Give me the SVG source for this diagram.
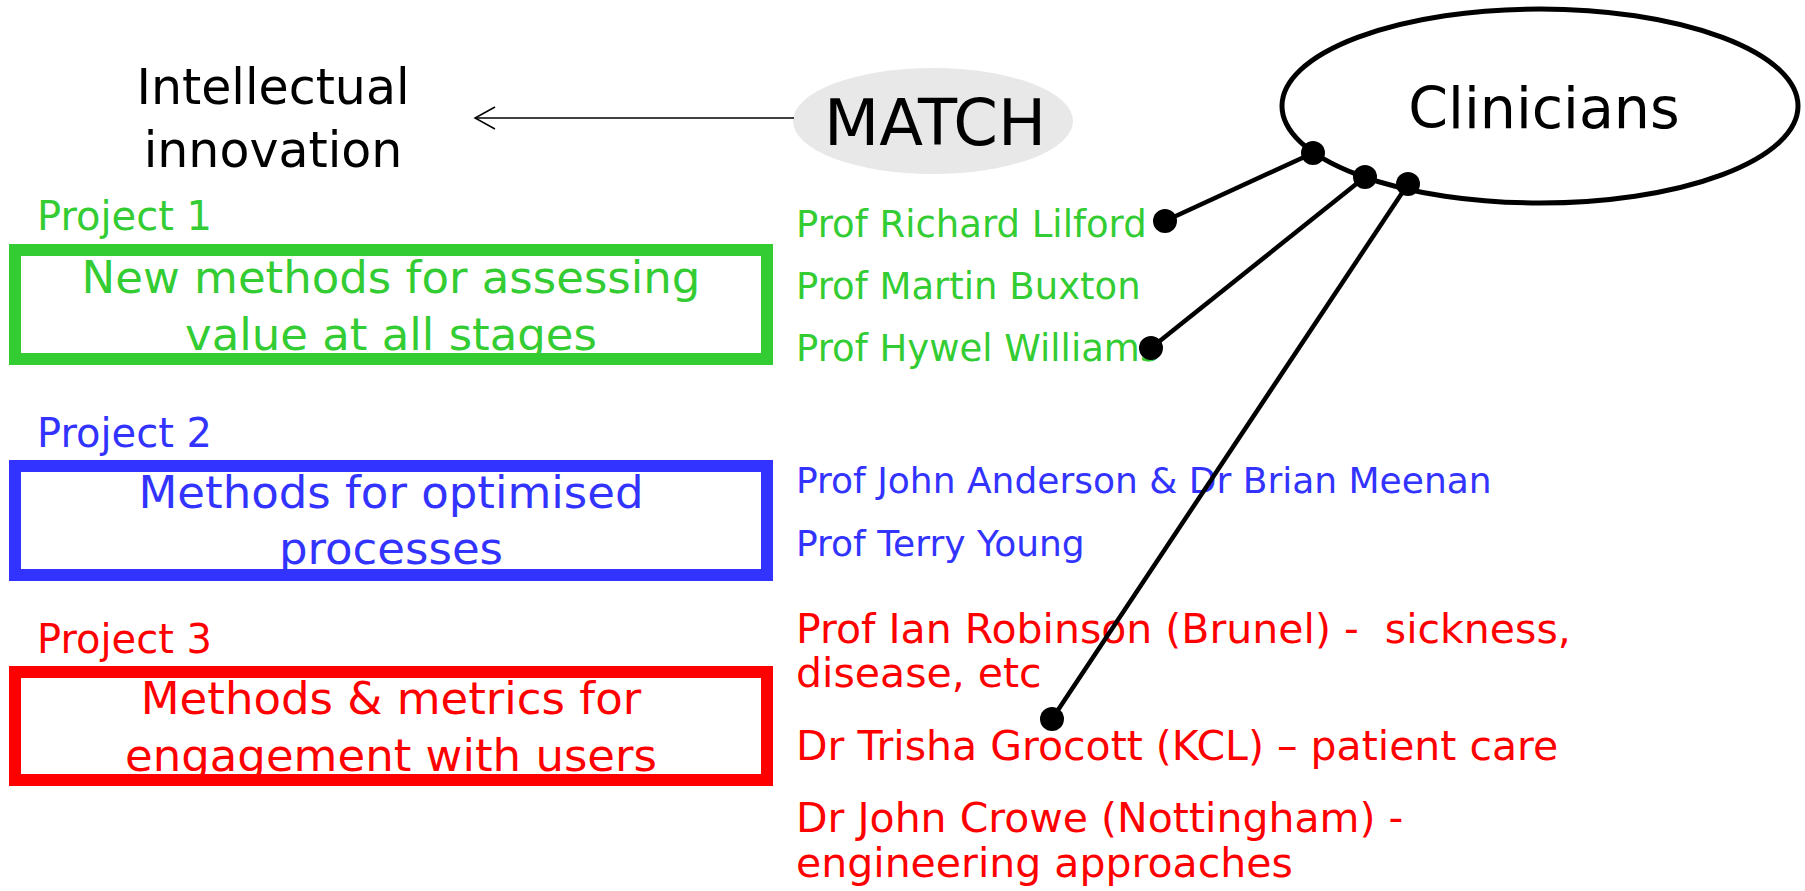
<svg xmlns="http://www.w3.org/2000/svg" width="1805" height="891" viewBox="0 0 1805 891">
<style>
text{font-family:"DejaVu Sans","Liberation Sans",sans-serif;white-space:pre;}
.big{font-size:49px;fill:#000;text-anchor:middle;}
.proj{font-size:40px;}
.box{fill:none;stroke-width:12;}
.boxtxt{font-size:45px;text-anchor:middle;}
.nm{font-size:37px;}
.nmb{font-size:36px;}
.nmr{font-size:41px;fill:#ff0000;}
.g{fill:#33cc33;} .b{fill:#3333ff;} .r{fill:#ff0000;}
.conn{stroke:#000;stroke-width:4.5;fill:none;}
.dot{fill:#000;}
</style>
<defs>
<marker id="open" markerUnits="userSpaceOnUse" markerWidth="30" markerHeight="30" viewBox="-25 -15 30 30" refX="0" refY="0" orient="auto">
<path d="M-20,-11 L0,0 L-20,11" fill="none" stroke="#000" stroke-width="1.5"/>
</marker>
</defs>
<rect width="1805" height="891" fill="#fff"/>

<g id="intellectual">
<text class="big" x="273" y="104">Intellectual</text>
<text class="big" x="273" y="167">innovation</text>
</g>

<g id="match">
<ellipse cx="933" cy="121" rx="140" ry="53" fill="#e8e8e8"/>
<text x="935" y="145" font-size="64" text-anchor="middle" fill="#000">MATCH</text>
</g>

<g id="clinicians">
<ellipse cx="1540" cy="106" rx="258" ry="97" fill="#fff" stroke="#000" stroke-width="5"/>
<text x="1544" y="128" font-size="57" text-anchor="middle" fill="#000">Clinicians</text>
</g>

<g id="project1">
<text class="proj g" x="37" y="230">Project 1</text>
<rect class="box" x="15" y="250" width="752" height="109" stroke="#33cc33"/>
<text class="boxtxt g" x="391" y="293">New methods for assessing</text>
<text class="boxtxt g" x="391" y="350">value at all stages</text>
</g>

<g id="project2">
<text class="proj b" x="37" y="447">Project 2</text>
<rect class="box" x="15" y="466" width="752" height="109" stroke="#3333ff"/>
<text class="boxtxt b" x="391" y="508">Methods for optimised</text>
<text class="boxtxt b" x="391" y="564">processes</text>
</g>

<g id="project3">
<text class="proj r" x="37" y="653">Project 3</text>
<rect class="box" x="15" y="672" width="752" height="108" stroke="#ff0000"/>
<text class="boxtxt r" x="391" y="714">Methods &amp; metrics for</text>
<text class="boxtxt r" x="391" y="771">engagement with users</text>
</g>

<g id="people1">
<text class="nm g" x="796" y="237">Prof Richard Lilford</text>
<text class="nm g" x="796" y="299">Prof Martin Buxton</text>
<text class="nm g" x="796" y="361">Prof Hywel Williams</text>
</g>

<g id="people2">
<text class="nmb b" x="796" y="493">Prof John Anderson &amp; Dr Brian Meenan</text>
<text class="nmb b" x="796" y="556">Prof Terry Young</text>
</g>

<g id="people3">
<text class="nmr" x="796" y="643" xml:space="preserve">Prof Ian Robinson (Brunel) -  sickness,</text>
<text class="nmr" x="796" y="687">disease, etc</text>
<text class="nmr" x="796" y="760">Dr Trisha Grocott (KCL) – patient care</text>
<text class="nmr" x="796" y="832">Dr John Crowe (Nottingham) -</text>
<text class="nmr" x="796" y="877">engineering approaches</text>
</g>

<g id="connectors">
<line x1="794" y1="118" x2="475" y2="118" stroke="#000" stroke-width="1.5" marker-end="url(#open)"/>
<line class="conn" x1="1313" y1="153" x2="1165" y2="221"/>
<line class="conn" x1="1365" y1="177" x2="1151" y2="348"/>
<line class="conn" x1="1408" y1="184" x2="1052" y2="719"/>
<circle class="dot" cx="1313" cy="153" r="12"/>
<circle class="dot" cx="1365" cy="177" r="12"/>
<circle class="dot" cx="1408" cy="184" r="12"/>
<circle class="dot" cx="1165" cy="221" r="12"/>
<circle class="dot" cx="1151" cy="348" r="12"/>
<circle class="dot" cx="1052" cy="719" r="12"/>
</g>
</svg>
